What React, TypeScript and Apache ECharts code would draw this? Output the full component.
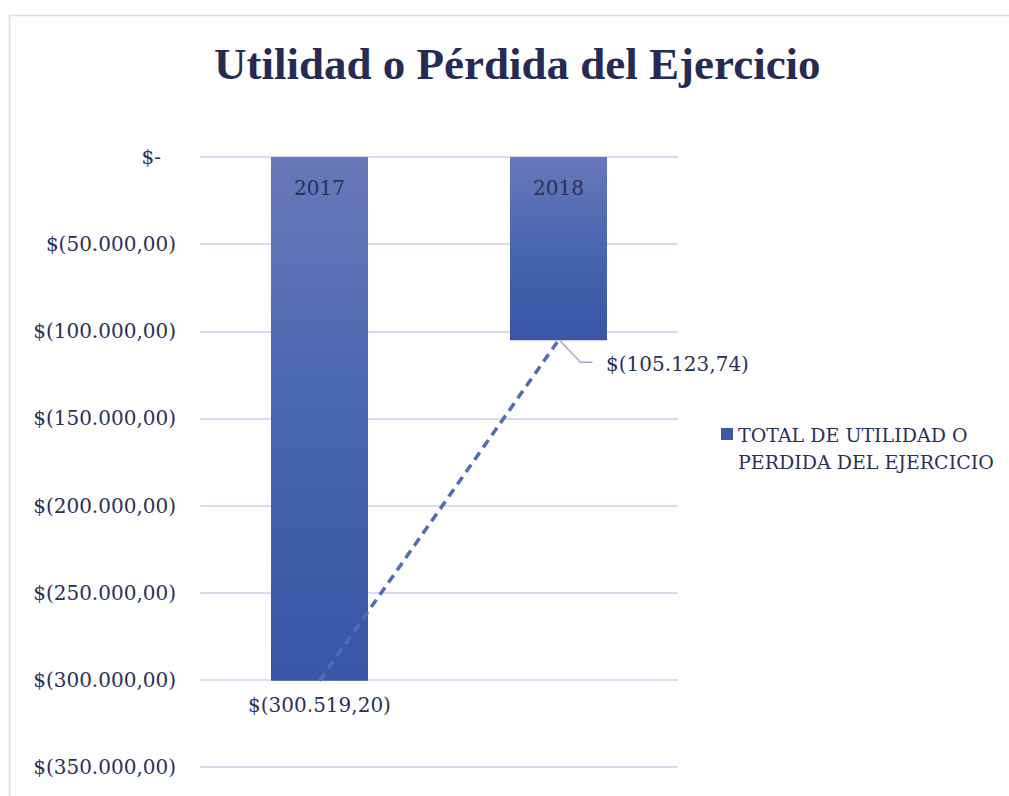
import React, { useEffect, useRef } from "react";
import * as echarts from "echarts";

const categories = ["2017", "2018"];
const values = [-300519.2, -105123.74];
const seriesName = "TOTAL DE UTILIDAD O PERDIDA DEL EJERCICIO";
const yMin = -350000;
const yMax = 0;
const yInterval = 50000;
// index of the data point whose label is moved aside with a leader line
const leaderIndex = 1;

const TEXT = "#2b3057";
const LABEL_FONT = "DejaVu Serif";

function fmtThousands(n: number): string {
  const s = Math.round(n).toString();
  return s.replace(/\B(?=(\d{3})+(?!\d))/g, ".");
}

function fmtMoney(v: number): string {
  if (v === 0) return "$-";
  const abs = Math.abs(v);
  const intPart = Math.floor(abs + 1e-9);
  const dec = Math.round((abs - intPart) * 100);
  const body = fmtThousands(intPart) + "," + String(dec).padStart(2, "0");
  return v < 0 ? "$(" + body + ")" : "$" + body;
}

export default function App() {
  const ref = useRef<HTMLDivElement>(null);
  useEffect(() => {
    if (!ref.current) return;
    const chart = echarts.init(ref.current, undefined, { renderer: "svg" });
    const barColor = new echarts.graphic.LinearGradient(0, 0, 0, 1, [
      { offset: 0, color: "#6878b9" },
      { offset: 0.5, color: "#4865b1" },
      { offset: 1, color: "#3a55a3" },
    ]);
    const barData = values.map((v, i) =>
      i === leaderIndex
        ? { value: v, label: { offset: [119, 0] } }
        : { value: v }
    );
    chart.setOption({
      animation: false,
      backgroundColor: "#ffffff",
      title: {
        text: "Utilidad o Pérdida del Ejercicio",
        left: 209,
        top: 36,
        textStyle: {
          fontFamily: "Liberation Serif",
          fontWeight: "bold",
          fontSize: 45,
          color: "#262b55",
        },
      },
      graphic: [
        {
          type: "rect",
          shape: { x: 9.5, y: 15.5, width: 1200, height: 1000 },
          style: { fill: "none", stroke: "#d9dcef", lineWidth: 1.5 },
          silent: true,
          z: -1,
        },
      ],
      legend: {
        show: true,
        orient: "vertical",
        left: 716,
        top: 416,
        icon: "path://M0,0L12,0L12,12L0,12Z M12,40L12,40",
        itemWidth: 12,
        itemHeight: 40,
        itemGap: 8,
        data: [{ name: seriesName, itemStyle: { color: "#3d5aa6" } }],
        formatter: () => "TOTAL DE UTILIDAD O\nPERDIDA DEL EJERCICIO",
        textStyle: {
          fontFamily: LABEL_FONT,
          fontSize: 19,
          color: TEXT,
          lineHeight: 27,
        },
      },
      grid: {
        left: 200,
        right: 331,
        top: 157,
        bottom: 29,
        containLabel: false,
        outerBoundsMode: "none",
      },
      xAxis: {
        type: "category",
        data: categories,
        position: "top",
        axisLine: { show: false },
        axisTick: { show: false },
        axisLabel: {
          inside: true,
          margin: 21,
          fontFamily: LABEL_FONT,
          fontSize: 20,
          color: TEXT,
        },
        z: 10,
      },
      yAxis: {
        type: "value",
        min: yMin,
        max: yMax,
        interval: yInterval,
        axisLine: { show: false },
        axisTick: { show: false },
        splitLine: { lineStyle: { color: "#d9dbf0", width: 2 } },
        axisLabel: {
          margin: 24,
          fontFamily: LABEL_FONT,
          fontSize: 20,
          color: TEXT,
          formatter: (v: number) => (v === 0 ? "{z|$-}" : fmtMoney(v)),
          rich: {
            z: {
              fontFamily: LABEL_FONT,
              fontSize: 20,
              color: TEXT,
              padding: [0, 15, 0, 0],
            },
          },
        },
      },
      series: [
        {
          name: seriesName,
          type: "bar",
          data: barData,
          barWidth: "40.6%",
          itemStyle: { color: barColor },
          label: {
            show: true,
            position: "bottom",
            distance: 14,
            fontFamily: LABEL_FONT,
            fontSize: 20,
            color: TEXT,
            formatter: (p: any) => fmtMoney(p.value),
          },
          z: 2,
        },
        {
          name: "trend",
          type: "line",
          data: values,
          symbol: "none",
          lineStyle: { color: "#4f6cb6", width: 3.5, type: [9, 6] },
          z: 3,
          silent: true,
        },
        {
          name: "leader",
          type: "custom",
          silent: true,
          z: 4,
          data: [[leaderIndex, values[leaderIndex]]],
          renderItem: (params: any, api: any) => {
            const pt = api.coord([api.value(0), api.value(1)]);
            return {
              type: "polyline",
              shape: {
                points: [
                  [pt[0] + 1, pt[1]],
                  [pt[0] + 22, pt[1] + 22],
                  [pt[0] + 34, pt[1] + 22],
                ],
              },
              style: { fill: "none", stroke: "#a3a6d2", lineWidth: 1.5 },
            };
          },
        },
      ],
    });
    return () => chart.dispose();
  }, []);
  return (
    <div
      ref={ref}
      style={{ position: "fixed", left: 0, top: 0, width: 1009, height: 796 }}
    />
  );
}
